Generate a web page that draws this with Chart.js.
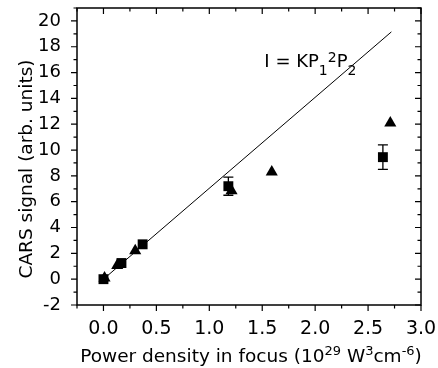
<!DOCTYPE html>
<html>
<head>
<meta charset="utf-8">
<script src="https://cdn.jsdelivr.net/npm/chart.js@4/dist/chart.umd.min.js"></script>
<style>
  html, body { margin: 0; padding: 0; background: #fff; }
  #wrap { width: 438px; height: 368px; }
</style>
</head>
<body>
<div id="wrap"><canvas id="carsChart"></canvas></div>
<script>
// measured data
const squareX = [0.0, 0.17, 0.37, 1.18, 2.64];
const squareY = [0.0, 1.25, 2.7, 7.2, 9.45];
const squareErr = [0, 0, 0, 0.7, 0.95];

const triangleX = [0.01, 0.13, 0.30, 1.21, 1.59, 2.71];
const triangleY = [0.1, 1.05, 2.2, 6.85, 8.3, 12.1];

// fit line I = K P1^2 P2
const fitX = [0.0, 2.72];
const fitY = [0.0, 19.15];

const xTicks = [0.0, 0.5, 1.0, 1.5, 2.0, 2.5, 3.0];
const yTicks = [-2, 0, 2, 4, 6, 8, 10, 12, 14, 16, 18, 20];

const fontFamily = '"DejaVu Sans", Verdana, sans-serif';

const toPoints = (xs, ys) => xs.map((x, i) => ({ x: x, y: ys[i] }));

// draw a run of [text, size, dy] pieces from x, baseline y
function drawRich(ctx, parts, x, y) {
  parts.forEach((p) => {
    ctx.font = p[1] + 'px ' + fontFamily;
    ctx.fillText(p[0], x, y + p[2]);
    x += ctx.measureText(p[0]).width;
  });
  return x;
}
function richWidth(ctx, parts) {
  let w = 0;
  parts.forEach((p) => {
    ctx.font = p[1] + 'px ' + fontFamily;
    w += ctx.measureText(p[0]).width;
  });
  return w;
}

// frame, ticks, error bars, titles and label
const framePlugin = {
  id: 'frame',
  afterDatasetsDraw(chart) {
    const ctx = chart.ctx;
    const area = chart.chartArea;
    const xs = chart.scales.x;
    const ys = chart.scales.y;
    ctx.save();
    ctx.strokeStyle = '#000';
    ctx.lineWidth = 1.5;
    ctx.strokeRect(area.left, area.top, area.right - area.left, area.bottom - area.top);

    ctx.lineWidth = 1.2;
    ctx.beginPath();
    // x ticks: major every 0.5, minor every 0.25
    for (let v = -0.25; v <= 3.001; v += 0.25) {
      const px = xs.getPixelForValue(v);
      const major = Math.abs(v * 2 - Math.round(v * 2)) < 1e-6;
      const len = major ? 6 : 3.5;
      ctx.moveTo(px, area.bottom);
      ctx.lineTo(px, area.bottom + len);
      ctx.moveTo(px, area.top);
      ctx.lineTo(px, area.top + len);
    }
    // y ticks: major every 2, minor every 1
    for (let v = -2; v <= 21; v += 1) {
      const py = ys.getPixelForValue(v);
      const major = v % 2 === 0;
      const len = major ? 6 : 3.5;
      ctx.moveTo(area.left, py);
      ctx.lineTo(area.left - len, py);
      ctx.moveTo(area.right, py);
      ctx.lineTo(area.right - len, py);
    }
    ctx.stroke();

    // error bars on squares
    ctx.lineWidth = 1.3;
    ctx.beginPath();
    squareX.forEach((x, i) => {
      const e = squareErr[i];
      if (!e) return;
      const px = xs.getPixelForValue(x);
      const top = ys.getPixelForValue(squareY[i] + e);
      const bot = ys.getPixelForValue(squareY[i] - e);
      ctx.moveTo(px, top);
      ctx.lineTo(px, bot);
      ctx.moveTo(px - 5, top);
      ctx.lineTo(px + 5, top);
      ctx.moveTo(px - 5, bot);
      ctx.lineTo(px + 5, bot);
    });
    ctx.stroke();

    ctx.fillStyle = '#000';
    ctx.textBaseline = 'alphabetic';
    ctx.textAlign = 'left';

    // formula label
    drawRich(ctx, [
      ['I = KP', 18, 0],
      ['1', 14, 8],
      ['2', 14, -5],
      ['P', 18, 0],
      ['2', 14, 8]
    ], xs.getPixelForValue(1.52), ys.getPixelForValue(16.45));

    // x title with superscripts
    const xTitle = [
      ['Power density in focus (10', 18.5, 0],
      ['29', 13, -7],
      [' W', 18.5, 0],
      ['3', 13, -7],
      ['cm', 18.5, 0],
      ['-6', 13, -7],
      [')', 18.5, 0]
    ];
    const xw = richWidth(ctx, xTitle);
    drawRich(ctx, xTitle, (area.left + area.right) / 2 - xw / 2 + 2, 362);

    // y title
    ctx.translate(32, 169);
    ctx.rotate(-Math.PI / 2);
    ctx.textAlign = 'center';
    ctx.font = '18.5px ' + fontFamily;
    ctx.fillText('CARS signal (arb. units)', 0, 0);
    ctx.restore();
  }
};

const ctx = document.getElementById('carsChart').getContext('2d');
new Chart(ctx, {
  type: 'scatter',
  data: {
    datasets: [
      {
        type: 'line',
        label: 'fit',
        data: toPoints(fitX, fitY),
        borderColor: '#000',
        borderWidth: 1,
        pointRadius: 0,
        fill: false,
      },
      {
        label: 'squares',
        data: toPoints(squareX, squareY),
        pointStyle: 'rect',
        pointRadius: 7,
        backgroundColor: '#000',
        borderColor: '#000',
        borderWidth: 0,
      },
      {
        label: 'triangles',
        data: toPoints(triangleX, triangleY),
        pointStyle: 'triangle',
        pointRadius: 7,
        backgroundColor: '#000',
        borderColor: '#000',
        borderWidth: 0,
      }
    ]
  },
  options: {
    responsive: true,
    maintainAspectRatio: false,
    animation: false,
    layout: {
      padding: { top: 8, right: 17, left: 0, bottom: 0 }
    },
    plugins: {
      legend: { display: false },
      tooltip: { enabled: false },
    },
    scales: {
      x: {
        type: 'linear',
        min: -0.25,
        max: 3.0,
        border: { display: false },
        grid: { display: false },
        afterBuildTicks: (scale) => { scale.ticks = xTicks.map(v => ({ value: v })); },
        afterFit: (scale) => {
          scale.height = 63;
          scale.paddingLeft = 0;
          scale.paddingRight = 0;
        },
        ticks: {
          color: '#000',
          padding: 5,
          maxRotation: 0,
          font: { family: fontFamily, size: 19 },
          callback: (v) => Number(v).toFixed(1),
        },
      },
      y: {
        type: 'linear',
        min: -2,
        max: 21,
        border: { display: false },
        grid: { display: false },
        afterBuildTicks: (scale) => { scale.ticks = yTicks.map(v => ({ value: v })); },
        afterFit: (scale) => {
          scale.width = 77;
          scale.paddingTop = 0;
          scale.paddingBottom = 0;
        },
        ticks: {
          color: '#000',
          padding: 8,
          font: { family: fontFamily, size: 18 },
        },
      }
    }
  },
  plugins: [framePlugin]
});
</script>
</body>
</html>
